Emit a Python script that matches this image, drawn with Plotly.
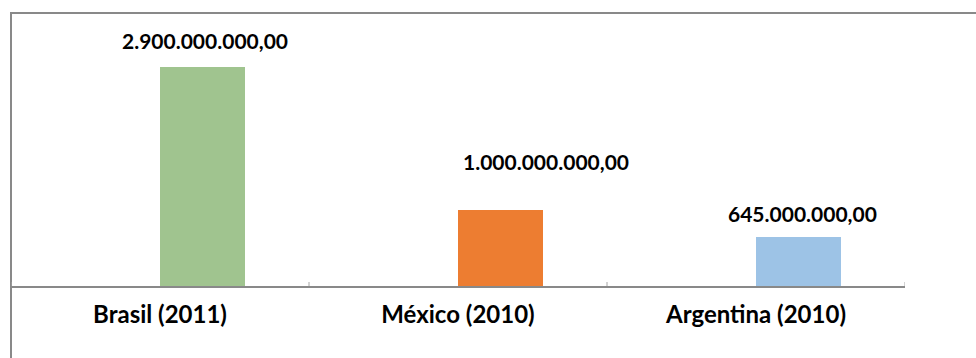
import plotly.graph_objects as go

categories = ["Brasil (2011)", "México (2010)", "Argentina (2010)"]
values = [2_900_000_000, 1_000_000_000, 645_000_000]
colors = ["#A0C48F", "#ED7D31", "#9DC3E6"]

W, H = 976, 358
BAR_W = 0.285
LABEL_SHIFT_PX = [26, 49, 24]
LABEL_XSHIFT_PX = [3, 46, 4]

def fmt(v):
    s = f"{v:,.2f}"
    return s.replace(",", "X").replace(".", ",").replace("X", ".")

fig = go.Figure(go.Bar(
    x=categories, y=values, marker=dict(color=colors, line=dict(width=0)),
    width=BAR_W, offset=0, hoverinfo="skip",
))

val_font = dict(family="Lato, Carlito, sans-serif", size=21, color="#000000", weight="bold")
cat_font = dict(family="Lato, Carlito, sans-serif", size=24, color="#000000", weight="bold")

for i, v in enumerate(values):
    fig.add_annotation(
        x=i + BAR_W / 2, y=v, xref="x", yref="y", text=fmt(v), showarrow=False,
        yanchor="middle", xanchor="center", yshift=LABEL_SHIFT_PX[i],
        xshift=LABEL_XSHIFT_PX[i], font=val_font,
    )

# border (open to the right/bottom as in reference)
fig.add_shape(type="rect", xref="paper", yref="paper",
              x0=11 / W, x1=1.2, y0=-0.2, y1=(H - 13) / H,
              line=dict(color="#898989", width=2), layer="below")

# crossing tick marks at category boundaries
for k in range(len(categories) + 1):
    fig.add_shape(type="line", xref="x", yref="y", x0=k - 0.5, x1=k - 0.5,
                  ysizemode="pixel", yanchor=0, y0=-4, y1=4,
                  line=dict(color="#A6A6A6", width=1))

fig.update_layout(
    width=W, height=H, margin=dict(l=0, r=0, t=0, b=0),
    paper_bgcolor="white", plot_bgcolor="white", showlegend=False,
    bargap=0,
    xaxis=dict(domain=[11 / W, 905 / W], range=[-0.5, 2.5], type="category",
               showline=True, linecolor="#898989", linewidth=2,
               ticks="", showgrid=False, tickfont=cat_font, ticklabelstandoff=6,
               fixedrange=True),
    yaxis=dict(domain=[(H - 286) / H, (H - 14) / H], range=[0, 3.6e9],
               visible=False, showgrid=False, zeroline=False, fixedrange=True),
)

fig.write_html("out.html")
